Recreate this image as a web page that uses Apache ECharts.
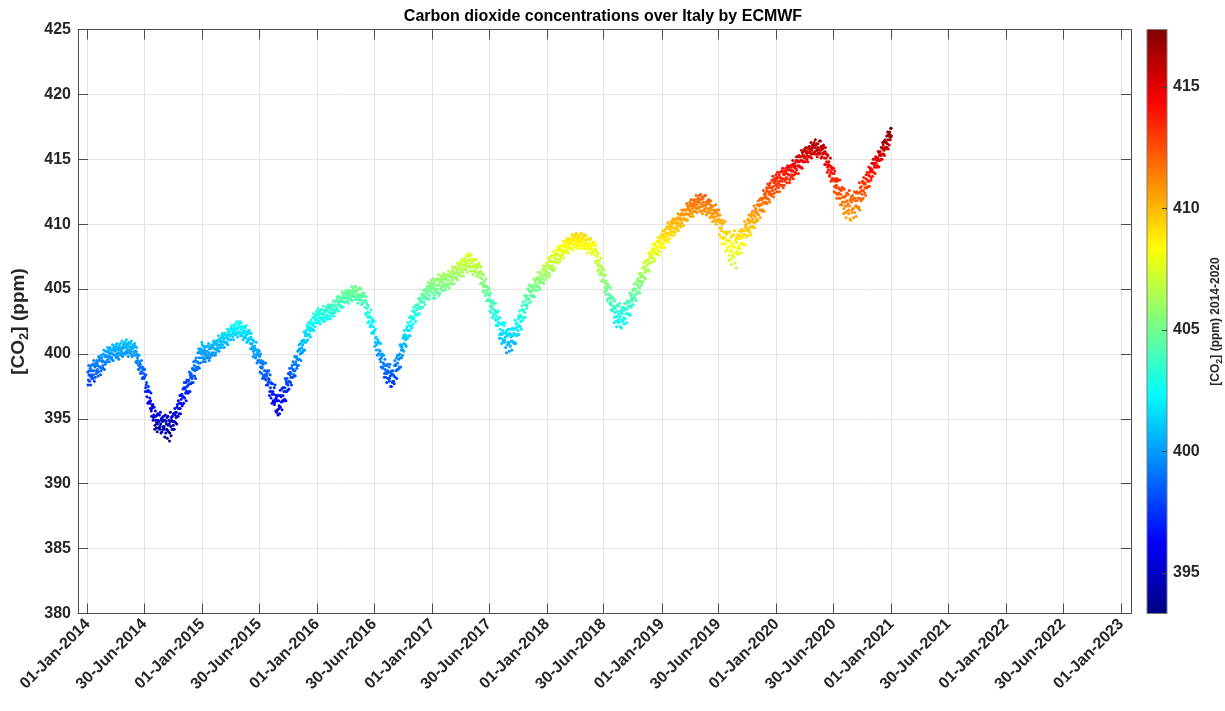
<!DOCTYPE html>
<html>
<head>
<meta charset="utf-8">
<script src="https://cdn.jsdelivr.net/npm/echarts@6/dist/echarts.min.js"></script>
<style>
  html, body { margin: 0; padding: 0; background: #ffffff; }
  #chart { width: 1225px; height: 711px; }
</style>
</head>
<body>
<div id="chart"></div>
<script>
// CO2 concentration over Italy (ECMWF), ppm.
// co2_YYYY: even days of the year (1 Jan, 3 Jan, ...); co2_YYYY_odd: odd days (2 Jan, 4 Jan, ...)
const co2_2014 = [
  398.6, 398.0, 398.4, 397.9, 398.9, 398.4, 398.7, 398.2, 399.2, 398.4, 398.7, 399.1, 398.2, 399.1, 398.7, 399.3,
  399.1, 398.6, 399.7, 399.0, 399.5, 398.7, 399.7, 399.4, 399.1, 400.0, 399.4, 399.8, 399.2, 399.9,
  399.8, 400.2, 399.6, 400.1, 400.4, 399.8, 400.0, 400.3, 399.6, 400.3, 400.0, 400.5, 399.9, 400.3, 400.2,
  400.6, 400.0, 400.4, 399.8, 400.3, 400.5, 400.0, 400.8, 400.2, 400.5, 400.1, 400.4, 400.7, 400.0, 400.5,
  400.7, 400.2, 400.5, 400.1, 400.8, 400.3, 400.6, 400.1, 400.8, 400.2, 400.4, 400.6, 399.9, 400.5, 400.2, 400.6,
  399.9, 400.2, 399.3, 399.7, 399.9, 399.1, 399.2, 399.4, 398.5, 399.0, 398.6, 399.0, 398.2, 398.5, 398.2,
  398.3, 397.4, 397.6, 396.7, 397.1, 397.2, 396.3, 397.1, 396.2, 396.4, 395.6, 395.8, 396.0, 394.9, 395.3,
  395.2, 394.5, 394.9, 394.3, 395.3, 394.6, 394.9, 394.3, 395.3, 394.4, 394.6, 395.0, 394.0, 394.8, 394.4, 394.9,
  394.2, 394.9, 393.9, 394.6, 395.1, 394.1, 394.5, 394.9, 393.3, 394.8, 394.4, 395.1, 394.2, 394.8, 394.5,
  395.4, 394.8, 395.3, 394.7, 395.5, 395.9, 395.2, 396.4, 395.8, 396.2, 395.8, 396.2, 396.8, 396.0, 396.7,
  396.7, 397.4, 396.6, 397.3, 397.8, 397.1, 397.5, 397.9, 397.0, 398.0, 397.7, 398.4, 397.7, 398.3, 398.1,
  398.8, 398.3, 398.8, 398.3, 399.5, 399.0, 399.4, 398.9, 400.1, 399.3, 399.7, 400.2, 399.3, 400.3, 400.0, 400.7
];
const co2_2014_odd = [
  397.6, 399.1, 398.7, 398.3, 397.6, 399.1, 398.1, 398.7, 398.1, 399.5, 397.9, 399.0, 399.3, 398.5, 399.5, 398.8,
  398.3, 399.8, 399.5, 399.0, 398.4, 399.9, 398.9, 399.5, 398.9, 400.3, 398.8, 399.8, 400.2, 399.4,
  399.4, 400.5, 400.2, 399.8, 399.4, 400.5, 399.7, 400.1, 399.7, 400.7, 399.5, 400.3, 400.5, 399.9, 400.7,
  399.7, 400.8, 400.5, 400.1, 399.6, 400.7, 400.0, 400.4, 399.9, 401.0, 399.8, 400.6, 400.8, 400.1, 400.9,
  400.0, 401.1, 400.7, 400.3, 399.8, 400.9, 400.1, 400.5, 400.0, 401.0, 399.8, 400.5, 400.7, 400.1, 400.8, 400.2,
  399.4, 400.5, 400.0, 399.5, 398.8, 399.9, 398.9, 399.2, 398.6, 399.5, 398.1, 398.8, 398.9, 398.1, 398.8,
  397.1, 398.4, 397.8, 397.1, 396.2, 397.5, 396.3, 396.6, 395.8, 397.0, 395.2, 396.0, 396.1, 395.1, 395.9,
  394.2, 395.6, 395.2, 394.7, 394.0, 395.4, 394.3, 394.8, 394.2, 395.5, 393.9, 394.9, 395.1, 394.2, 395.2, 394.4,
  393.6, 395.3, 394.8, 394.2, 393.5, 395.2, 394.0, 394.6, 393.9, 395.5, 393.7, 394.9, 395.2, 394.2, 395.4,
  394.2, 395.8, 395.5, 395.1, 394.6, 396.1, 395.2, 395.8, 395.4, 396.8, 395.4, 396.5, 396.9, 396.1, 397.3,
  396.2, 397.8, 397.4, 397.0, 396.4, 398.0, 397.0, 397.6, 397.1, 398.6, 397.1, 398.2, 398.5, 397.8, 398.9,
  397.8, 399.4, 399.1, 398.7, 398.1, 399.7, 398.8, 399.4, 399.0, 400.4, 398.9, 400.1, 400.4, 399.7, 400.9, 400.2
];
const co2_2015 = [
  400.3, 399.7, 400.1, 399.6, 400.5, 400.0, 400.2, 399.7, 400.6, 399.9, 400.1, 400.4, 399.7, 400.4, 400.0, 400.6,
  400.5, 400.1, 400.9, 400.4, 400.8, 400.1, 400.9, 400.7, 400.5, 401.1, 400.7, 401.0, 400.5, 401.0,
  400.9, 401.4, 400.7, 401.2, 401.5, 400.9, 401.2, 401.5, 400.8, 401.4, 401.2, 401.7, 401.1, 401.5, 401.4,
  402.0, 401.5, 401.8, 401.3, 401.8, 402.0, 401.5, 402.3, 401.7, 402.0, 401.6, 401.9, 402.3, 401.6, 402.1,
  402.1, 401.6, 401.9, 401.4, 402.1, 401.6, 401.8, 401.3, 402.0, 401.4, 401.5, 401.7, 401.0, 401.6, 401.2, 401.6,
  400.8, 401.3, 400.4, 400.8, 401.1, 400.2, 400.4, 400.6, 399.7, 400.3, 399.9, 400.3, 399.5, 399.9, 399.5,
  399.8, 399.0, 399.3, 398.5, 399.0, 399.2, 398.3, 399.3, 398.4, 398.7, 398.0, 398.3, 398.6, 397.6, 398.1,
  398.0, 397.1, 397.4, 396.6, 397.7, 396.9, 397.1, 396.3, 397.4, 396.3, 396.5, 396.8, 395.5, 396.4, 395.3, 396.4,
  396.0, 396.8, 395.9, 396.7, 397.3, 396.4, 396.8, 397.4, 396.4, 397.4, 397.1, 397.9, 397.1, 397.8, 397.6,
  398.5, 397.9, 398.4, 397.8, 398.5, 398.9, 398.2, 399.4, 398.7, 399.2, 398.7, 399.2, 399.7, 398.9, 399.6,
  399.6, 400.3, 399.6, 400.3, 400.8, 400.1, 400.5, 401.0, 400.2, 401.1, 400.9, 401.6, 400.9, 401.6, 401.4,
  402.0, 401.5, 401.9, 401.5, 402.4, 402.0, 402.3, 401.9, 402.8, 402.2, 402.4, 402.8, 402.1, 402.9, 402.6, 403.2
];
const co2_2015_odd = [
  399.4, 400.6, 400.3, 399.9, 399.4, 400.6, 399.7, 400.2, 399.7, 400.8, 399.5, 400.4, 400.6, 399.9, 400.7, 400.1,
  399.9, 401.0, 400.7, 400.4, 399.9, 401.0, 400.3, 400.7, 400.3, 401.4, 400.2, 401.0, 401.2, 400.7,
  400.5, 401.6, 401.3, 401.0, 400.5, 401.6, 400.9, 401.3, 400.9, 401.9, 400.7, 401.5, 401.7, 401.1, 401.9,
  401.1, 402.2, 401.9, 401.6, 401.1, 402.2, 401.5, 401.9, 401.5, 402.5, 401.3, 402.1, 402.3, 401.7, 402.5,
  401.4, 402.4, 402.1, 401.7, 401.1, 402.1, 401.3, 401.7, 401.2, 402.2, 400.9, 401.7, 401.8, 401.1, 401.8, 401.2,
  400.4, 401.6, 401.1, 400.6, 399.8, 401.0, 400.0, 400.4, 399.7, 400.9, 399.3, 400.1, 400.3, 399.4, 400.2,
  398.6, 400.0, 399.5, 398.9, 398.1, 399.4, 398.3, 398.7, 398.1, 399.3, 397.6, 398.5, 398.7, 397.8, 398.7,
  396.8, 398.4, 397.8, 397.1, 396.2, 397.7, 396.4, 396.9, 396.1, 397.6, 395.6, 396.6, 396.8, 395.7, 396.8, 395.8,
  395.4, 397.2, 396.8, 396.3, 395.7, 397.4, 396.4, 397.1, 396.5, 398.1, 396.4, 397.7, 398.1, 397.2, 398.5,
  397.3, 398.9, 398.6, 398.2, 397.6, 399.1, 398.2, 398.8, 398.4, 399.8, 398.3, 399.4, 399.8, 399.1, 400.2,
  399.1, 400.7, 400.4, 400.0, 399.5, 401.0, 400.1, 400.7, 400.3, 401.7, 400.3, 401.4, 401.8, 401.0, 402.2,
  401.1, 402.4, 402.1, 401.8, 401.3, 402.6, 401.8, 402.3, 401.9, 403.1, 401.8, 402.7, 403.0, 402.4, 403.3, 402.7
];
const co2_2016 = [
  403.1, 402.6, 403.0, 402.5, 403.3, 402.8, 403.1, 402.7, 403.4, 402.8, 403.0, 403.3, 402.6, 403.3, 402.9, 403.4,
  403.3, 402.9, 403.7, 403.2, 403.6, 402.9, 403.7, 403.4, 403.2, 403.8, 403.4, 403.7, 403.2, 403.7,
  403.7, 404.2, 403.5, 404.0, 404.4, 403.8, 404.0, 404.3, 403.6, 404.3, 404.1, 404.6, 404.0, 404.4, 404.3,
  404.7, 404.3, 404.6, 404.1, 404.5, 404.7, 404.2, 404.9, 404.5, 404.8, 404.4, 404.6, 404.9, 404.4, 404.8,
  404.9, 404.4, 404.7, 404.2, 404.9, 404.4, 404.6, 404.2, 405.1, 404.2, 404.4, 404.6, 403.9, 404.4, 404.1, 404.5,
  403.6, 404.1, 403.0, 403.5, 403.8, 402.8, 402.9, 403.2, 402.1, 402.8, 402.3, 402.7, 401.7, 402.1, 401.7,
  401.8, 400.9, 401.2, 400.3, 400.8, 400.9, 400.0, 400.9, 400.0, 400.2, 399.4, 399.7, 399.9, 398.9, 399.3,
  399.2, 398.5, 398.8, 398.2, 399.1, 398.5, 398.7, 398.1, 399.0, 398.1, 398.3, 398.6, 397.5, 398.4, 397.9, 398.4,
  398.3, 399.1, 398.2, 399.1, 399.7, 398.8, 399.3, 399.9, 398.9, 400.0, 399.7, 400.6, 399.7, 400.5, 400.3,
  401.4, 400.8, 401.3, 400.7, 401.4, 401.9, 401.2, 402.4, 401.8, 402.2, 401.8, 402.2, 402.8, 402.0, 402.7,
  402.8, 403.3, 402.7, 403.2, 403.7, 403.0, 403.4, 403.8, 403.0, 403.8, 403.6, 404.2, 403.5, 404.1, 404.0,
  404.5, 404.0, 404.4, 404.0, 404.9, 404.4, 404.8, 404.3, 405.2, 404.6, 404.9, 405.2, 404.5, 405.3, 405.0, 405.6
];
const co2_2016_odd = [
  402.4, 403.5, 403.2, 402.8, 402.3, 403.4, 402.7, 403.1, 402.6, 403.7, 402.5, 403.2, 403.4, 402.8, 403.6, 403.0,
  402.7, 403.8, 403.5, 403.2, 402.7, 403.8, 403.1, 403.5, 403.1, 404.1, 402.9, 403.7, 404.0, 403.4,
  403.3, 404.4, 404.1, 403.8, 403.3, 404.4, 403.7, 404.1, 403.7, 404.8, 403.6, 404.4, 404.6, 404.0, 404.8,
  404.0, 404.9, 404.7, 404.4, 403.9, 404.9, 404.3, 404.6, 404.2, 405.2, 404.1, 404.8, 405.0, 404.5, 405.2,
  404.2, 405.2, 404.9, 404.5, 403.9, 405.0, 404.2, 404.5, 404.1, 405.0, 403.8, 404.5, 404.7, 404.0, 404.7, 404.1,
  403.1, 404.4, 403.9, 403.2, 402.4, 403.7, 402.5, 402.9, 402.2, 403.4, 401.6, 402.5, 402.6, 401.6, 402.5,
  400.6, 401.9, 401.3, 400.7, 399.9, 401.1, 400.0, 400.3, 399.6, 400.8, 399.0, 399.9, 400.0, 399.0, 399.9,
  398.2, 399.6, 399.1, 398.6, 397.8, 399.2, 398.1, 398.6, 397.9, 399.2, 397.5, 398.5, 398.7, 397.8, 398.7, 397.9,
  397.7, 399.5, 399.2, 398.7, 398.1, 399.9, 398.8, 399.6, 399.0, 400.7, 399.0, 400.3, 400.7, 399.9, 401.2,
  400.2, 401.8, 401.5, 401.1, 400.6, 402.1, 401.2, 401.8, 401.4, 402.8, 401.4, 402.5, 402.9, 402.1, 403.3,
  402.3, 403.6, 403.3, 403.0, 402.5, 403.8, 403.0, 403.5, 403.1, 404.3, 403.1, 404.0, 404.3, 403.6, 404.6,
  403.6, 404.9, 404.6, 404.3, 403.8, 405.0, 404.3, 404.7, 404.3, 405.5, 404.2, 405.1, 405.4, 404.8, 405.7, 405.1
];
const co2_2017 = [
  405.3, 404.7, 405.1, 404.5, 405.6, 405.0, 405.3, 404.8, 405.8, 405.0, 405.3, 405.7, 404.7, 405.6, 405.2, 405.8,
  405.6, 405.2, 406.0, 405.4, 405.8, 405.1, 405.9, 405.7, 405.4, 406.1, 405.7, 406.0, 405.4, 406.0,
  405.9, 406.4, 405.7, 406.2, 406.6, 405.9, 406.2, 406.6, 405.8, 406.5, 406.3, 406.8, 406.1, 406.6, 406.5,
  407.0, 406.4, 406.8, 406.3, 406.8, 407.1, 406.5, 407.4, 406.8, 407.1, 406.7, 407.0, 407.7, 406.7, 407.2,
  407.3, 406.7, 407.0, 406.4, 407.2, 406.7, 406.9, 406.4, 407.2, 406.4, 406.6, 406.9, 406.0, 406.7, 406.3, 406.8,
  405.9, 406.4, 405.4, 405.8, 406.1, 405.2, 405.3, 405.6, 404.5, 405.2, 404.7, 405.2, 404.2, 404.6, 404.2,
  404.5, 403.7, 404.0, 403.2, 403.7, 403.9, 403.0, 403.9, 403.1, 403.3, 402.6, 402.9, 403.2, 402.2, 402.7,
  402.4, 401.5, 401.9, 401.2, 402.3, 401.5, 401.8, 401.0, 402.2, 401.1, 401.3, 401.7, 400.1, 401.4, 400.9, 401.5,
  400.8, 401.6, 400.6, 401.3, 401.9, 401.0, 401.4, 401.9, 400.8, 401.9, 401.5, 402.3, 401.4, 402.1, 401.8,
  402.9, 402.2, 402.8, 402.1, 402.9, 403.4, 402.6, 404.0, 403.3, 403.8, 403.2, 403.8, 404.4, 403.5, 404.3,
  404.3, 405.0, 404.2, 404.8, 405.2, 404.5, 404.8, 405.2, 404.4, 405.2, 405.0, 405.6, 404.9, 405.4, 405.2,
  405.8, 405.2, 405.7, 405.2, 406.2, 405.7, 406.0, 405.5, 406.5, 405.8, 406.1, 406.5, 405.7, 406.5, 406.2, 406.8
];
const co2_2017_odd = [
  404.3, 405.8, 405.4, 404.9, 404.3, 405.7, 404.7, 405.3, 404.7, 406.1, 404.5, 405.5, 405.8, 405.0, 406.0, 405.3,
  404.9, 406.2, 405.8, 405.4, 404.9, 406.1, 405.3, 405.7, 405.3, 406.4, 405.1, 406.0, 406.2, 405.5,
  405.4, 406.7, 406.4, 406.0, 405.4, 406.7, 405.9, 406.3, 405.9, 407.0, 405.7, 406.6, 406.9, 406.2, 407.1,
  406.0, 407.3, 407.0, 406.6, 406.0, 407.3, 406.5, 406.9, 406.5, 407.6, 406.3, 407.2, 407.5, 406.8, 407.7,
  406.4, 407.6, 407.2, 406.7, 406.1, 407.3, 406.4, 406.8, 406.3, 407.3, 406.0, 406.8, 406.9, 406.2, 407.0, 406.3,
  405.4, 406.7, 406.2, 405.5, 404.8, 406.1, 404.9, 405.3, 404.6, 405.8, 404.1, 404.9, 405.1, 404.1, 405.0,
  403.3, 404.7, 404.1, 403.5, 402.8, 404.1, 403.0, 403.4, 402.7, 403.9, 402.2, 403.2, 403.3, 402.4, 403.3,
  401.2, 402.8, 402.3, 401.6, 400.8, 402.4, 401.1, 401.6, 400.9, 402.4, 400.5, 401.6, 401.8, 400.7, 401.9, 400.9,
  400.2, 401.9, 401.5, 401.0, 400.3, 402.0, 400.9, 401.6, 400.9, 402.6, 400.8, 402.0, 402.4, 401.5, 402.7,
  401.5, 403.3, 403.0, 402.5, 401.9, 403.7, 402.6, 403.4, 402.8, 404.5, 402.8, 404.1, 404.5, 403.7, 405.0,
  403.9, 405.3, 404.9, 404.5, 404.0, 405.3, 404.5, 405.0, 404.5, 405.8, 404.4, 405.4, 405.7, 404.9, 405.9,
  404.9, 406.3, 405.9, 405.5, 405.0, 406.3, 405.5, 406.0, 405.5, 406.8, 405.4, 406.4, 406.7, 406.0, 407.0, 406.3
];
const co2_2018 = [
  406.9, 406.3, 406.8, 406.2, 407.3, 406.8, 407.1, 406.6, 407.6, 406.8, 407.1, 407.6, 406.6, 407.5, 407.2, 407.8,
  407.7, 407.3, 408.1, 407.6, 408.0, 407.3, 408.2, 407.9, 407.7, 408.4, 408.0, 408.3, 407.8, 408.4,
  408.2, 408.7, 408.0, 408.5, 408.8, 408.2, 408.5, 408.8, 408.1, 408.7, 408.5, 409.0, 408.4, 408.8, 408.7,
  409.1, 408.5, 408.8, 408.3, 408.8, 409.0, 408.4, 409.2, 408.6, 408.9, 408.4, 408.7, 409.0, 408.3, 408.8,
  408.8, 408.3, 408.6, 408.1, 408.8, 408.3, 408.5, 408.1, 408.8, 408.1, 408.3, 408.5, 407.8, 408.4, 408.0, 408.4,
  407.6, 408.1, 407.0, 407.5, 407.8, 406.8, 406.9, 407.2, 406.1, 406.8, 406.3, 406.7, 405.7, 406.1, 405.7,
  406.0, 405.1, 405.4, 404.6, 405.0, 405.2, 404.3, 405.2, 404.3, 404.5, 403.8, 404.0, 404.3, 403.3, 403.7,
  403.6, 402.8, 403.2, 402.5, 403.7, 402.9, 403.3, 402.5, 403.7, 402.7, 402.9, 403.3, 402.0, 403.1, 402.6, 403.3,
  402.8, 403.5, 402.7, 403.4, 403.9, 403.1, 403.5, 404.0, 403.0, 404.0, 403.7, 404.5, 403.6, 404.3, 404.1,
  405.0, 404.4, 404.9, 404.3, 405.0, 405.4, 404.7, 405.8, 405.2, 405.6, 405.1, 405.6, 406.1, 405.3, 406.0,
  406.0, 406.7, 405.9, 406.6, 407.1, 406.4, 406.8, 407.2, 406.4, 407.3, 407.0, 407.7, 407.0, 407.6, 407.4,
  408.0, 407.4, 407.9, 407.4, 408.4, 407.9, 408.2, 407.7, 408.7, 408.0, 408.3, 408.7, 407.9, 408.7, 408.4, 409.0
];
const co2_2018_odd = [
  405.9, 407.4, 407.1, 406.6, 406.0, 407.5, 406.5, 407.1, 406.5, 407.9, 406.4, 407.4, 407.7, 407.0, 408.0, 407.3,
  407.0, 408.3, 408.0, 407.6, 407.1, 408.3, 407.5, 408.0, 407.6, 408.7, 407.4, 408.3, 408.6, 407.9,
  407.8, 408.9, 408.6, 408.3, 407.8, 408.9, 408.2, 408.6, 408.2, 409.2, 408.0, 408.8, 409.0, 408.4, 409.2,
  408.2, 409.3, 409.0, 408.6, 408.1, 409.1, 408.4, 408.8, 408.3, 409.3, 408.1, 408.9, 409.1, 408.5, 409.2,
  408.1, 409.1, 408.8, 408.4, 407.8, 408.9, 408.1, 408.4, 408.0, 408.9, 407.7, 408.4, 408.6, 407.9, 408.6, 408.0,
  407.1, 408.4, 407.9, 407.2, 406.4, 407.7, 406.5, 406.9, 406.2, 407.4, 405.6, 406.5, 406.6, 405.6, 406.5,
  404.8, 406.1, 405.6, 404.9, 404.1, 405.4, 404.3, 404.6, 403.9, 405.1, 403.4, 404.3, 404.4, 403.4, 404.3,
  402.4, 404.1, 403.5, 402.9, 402.1, 403.8, 402.6, 403.1, 402.4, 403.9, 402.1, 403.2, 403.5, 402.5, 403.6, 402.7,
  402.3, 403.9, 403.5, 403.1, 402.4, 404.1, 403.1, 403.7, 403.1, 404.7, 403.0, 404.2, 404.6, 403.8, 404.9,
  403.8, 405.4, 405.0, 404.6, 404.1, 405.6, 404.7, 405.3, 404.8, 406.2, 404.7, 405.9, 406.2, 405.5, 406.6,
  405.6, 407.0, 406.7, 406.3, 405.8, 407.2, 406.4, 406.9, 406.5, 407.8, 406.4, 407.5, 407.8, 407.1, 408.1,
  407.1, 408.5, 408.1, 407.7, 407.2, 408.5, 407.7, 408.2, 407.7, 409.0, 407.6, 408.6, 408.9, 408.2, 409.2, 408.5
];
const co2_2019 = [
  409.1, 408.5, 409.0, 408.5, 409.5, 409.0, 409.3, 408.8, 409.8, 409.1, 409.3, 409.7, 408.9, 409.7, 409.4, 410.0,
  409.8, 409.4, 410.2, 409.7, 410.1, 409.4, 410.3, 410.0, 409.8, 410.5, 410.1, 410.4, 409.9, 410.5,
  410.3, 410.8, 410.1, 410.7, 411.1, 410.4, 410.7, 411.1, 410.3, 411.1, 410.8, 411.4, 410.7, 411.2, 411.1,
  411.6, 411.0, 411.4, 410.8, 411.4, 411.6, 411.0, 411.9, 411.3, 411.7, 411.2, 411.5, 411.9, 411.2, 411.7,
  411.9, 411.3, 411.6, 411.0, 412.1, 411.4, 411.7, 411.1, 412.2, 411.2, 411.4, 411.7, 410.8, 411.6, 411.2, 411.7,
  410.9, 411.5, 410.6, 411.1, 411.4, 410.6, 410.8, 411.1, 410.2, 410.9, 410.6, 411.1, 410.3, 410.7, 410.4,
  410.7, 409.7, 410.1, 409.0, 409.7, 410.0, 408.9, 410.1, 409.0, 409.4, 408.5, 408.8, 409.3, 408.0, 408.7,
  408.7, 407.6, 408.3, 407.3, 409.0, 408.0, 408.5, 407.5, 409.2, 407.8, 408.2, 408.8, 406.6, 408.6, 407.9, 408.9,
  408.3, 409.1, 408.1, 408.9, 409.4, 408.5, 409.0, 409.5, 408.4, 409.5, 409.2, 409.9, 409.0, 409.7, 409.5,
  410.3, 409.6, 410.1, 409.4, 410.2, 410.6, 409.8, 411.0, 410.2, 410.7, 410.1, 410.6, 411.1, 410.2, 410.9,
  410.8, 411.5, 410.7, 411.4, 411.9, 411.1, 411.5, 411.9, 411.0, 412.0, 411.7, 412.3, 411.6, 412.2, 412.0,
  412.6, 412.0, 412.5, 411.9, 413.0, 412.5, 412.8, 412.3, 413.4, 412.6, 412.9, 413.3, 412.4, 413.3, 413.0, 413.6
];
const co2_2019_odd = [
  408.2, 409.5, 409.2, 408.8, 408.2, 409.6, 408.7, 409.3, 408.8, 410.1, 408.6, 409.6, 409.9, 409.2, 410.2, 409.5,
  409.1, 410.4, 410.1, 409.7, 409.2, 410.4, 409.6, 410.1, 409.7, 410.8, 409.5, 410.4, 410.7, 410.0,
  409.8, 411.1, 410.8, 410.4, 409.9, 411.1, 410.4, 410.8, 410.4, 411.6, 410.3, 411.2, 411.4, 410.8, 411.7,
  410.6, 411.9, 411.5, 411.2, 410.6, 411.8, 411.0, 411.5, 411.0, 412.2, 410.9, 411.7, 412.0, 411.3, 412.2,
  411.0, 412.3, 411.9, 411.4, 410.8, 412.0, 411.1, 411.5, 411.0, 412.2, 410.7, 411.6, 411.8, 411.0, 411.9, 411.2,
  410.5, 411.8, 411.3, 410.8, 410.2, 411.4, 410.5, 410.9, 410.3, 411.5, 410.0, 410.9, 411.1, 410.2, 411.1,
  409.2, 410.7, 410.3, 409.5, 408.5, 410.3, 408.9, 409.4, 408.5, 410.2, 407.9, 409.2, 409.4, 408.2, 409.4,
  407.2, 409.4, 408.7, 407.9, 406.9, 409.1, 407.6, 408.3, 407.4, 409.5, 407.0, 408.6, 409.0, 407.7, 409.2, 408.1,
  407.7, 409.5, 409.1, 408.5, 407.8, 409.6, 408.5, 409.2, 408.5, 410.2, 408.4, 409.7, 410.0, 409.1, 410.4,
  409.1, 410.7, 410.3, 409.8, 409.2, 410.8, 409.8, 410.4, 409.8, 411.4, 409.7, 410.9, 411.2, 410.4, 411.5,
  410.3, 411.8, 411.5, 411.1, 410.5, 412.0, 411.1, 411.6, 411.1, 412.6, 411.0, 412.1, 412.4, 411.7, 412.8,
  411.6, 413.1, 412.8, 412.3, 411.7, 413.2, 412.2, 412.8, 412.3, 413.7, 412.1, 413.2, 413.5, 412.7, 413.8, 413.1
];
const co2_2020 = [
  413.5, 412.9, 413.3, 412.8, 413.8, 413.3, 413.6, 413.0, 414.1, 413.3, 413.5, 413.9, 413.0, 413.9, 413.5, 414.1,
  413.9, 413.5, 414.4, 413.8, 414.2, 413.4, 414.4, 414.1, 413.8, 414.6, 414.1, 414.4, 413.8, 414.5,
  414.3, 414.9, 414.2, 414.8, 415.2, 414.5, 414.8, 415.2, 414.4, 415.2, 414.9, 415.5, 414.8, 415.3, 415.1,
  415.7, 415.2, 415.5, 415.0, 415.5, 415.8, 415.2, 416.0, 415.5, 415.8, 415.4, 415.7, 416.1, 415.4, 415.9,
  416.1, 415.6, 415.9, 415.4, 416.2, 415.7, 415.9, 415.4, 416.4, 415.5, 415.7, 416.0, 415.2, 415.8, 415.5, 415.9,
  415.1, 415.6, 414.6, 415.1, 415.4, 414.4, 414.6, 414.8, 413.7, 414.5, 414.0, 414.4, 413.5, 413.9, 413.5,
  413.9, 412.9, 413.3, 412.4, 413.0, 413.3, 412.3, 413.4, 412.4, 412.7, 412.0, 412.3, 412.7, 411.5, 412.1,
  412.1, 411.2, 411.7, 410.9, 412.2, 411.4, 411.8, 411.0, 412.3, 411.1, 411.4, 411.9, 410.3, 411.7, 411.1, 411.9,
  411.2, 412.0, 410.9, 411.8, 412.4, 411.4, 411.8, 412.4, 411.2, 412.4, 412.0, 412.8, 411.8, 412.6, 412.3,
  413.2, 412.6, 413.1, 412.4, 413.1, 413.5, 412.8, 414.0, 413.3, 413.8, 413.3, 413.7, 414.2, 413.4, 414.1,
  414.2, 414.7, 414.0, 414.6, 415.0, 414.4, 414.7, 415.1, 414.4, 415.1, 414.9, 415.5, 414.9, 415.4, 415.3,
  415.9, 415.4, 415.8, 415.4, 416.4, 415.9, 416.3, 415.9, 416.8, 416.2, 416.5, 416.9, 416.1, 416.9, 416.7, 417.4
];
const co2_2020_odd = [
  412.5, 414.0, 413.6, 413.1, 412.5, 414.0, 413.0, 413.5, 413.0, 414.3, 412.8, 413.8, 414.1, 413.3, 414.3, 413.6,
  413.2, 414.5, 414.2, 413.8, 413.2, 414.5, 413.6, 414.2, 413.7, 414.9, 413.5, 414.5, 414.7, 414.0,
  413.9, 415.2, 414.9, 414.5, 413.9, 415.3, 414.4, 414.9, 414.4, 415.7, 414.3, 415.3, 415.6, 414.8, 415.8,
  414.8, 415.9, 415.6, 415.3, 414.8, 415.9, 415.2, 415.6, 415.2, 416.3, 415.1, 415.9, 416.1, 415.5, 416.3,
  415.4, 416.5, 416.1, 415.7, 415.2, 416.2, 415.5, 415.8, 415.4, 416.4, 415.1, 415.9, 416.0, 415.4, 416.1, 415.5,
  414.6, 415.9, 415.4, 414.8, 414.0, 415.3, 414.2, 414.5, 413.8, 415.1, 413.3, 414.2, 414.3, 413.4, 414.3,
  412.5, 414.1, 413.5, 412.8, 412.0, 413.5, 412.3, 412.8, 412.0, 413.4, 411.5, 412.6, 412.8, 411.7, 412.8,
  410.8, 412.7, 412.1, 411.4, 410.5, 412.4, 411.0, 411.6, 410.8, 412.6, 410.4, 411.8, 412.1, 410.9, 412.2, 411.2,
  410.5, 412.5, 412.0, 411.4, 410.6, 412.5, 411.3, 412.0, 411.3, 413.2, 411.1, 412.5, 412.9, 411.9, 413.3,
  412.0, 413.6, 413.2, 412.8, 412.2, 413.8, 412.8, 413.4, 412.9, 414.4, 412.9, 414.0, 414.3, 413.6, 414.7,
  413.7, 415.0, 414.7, 414.4, 413.9, 415.2, 414.4, 414.9, 414.5, 415.6, 414.4, 415.3, 415.6, 415.0, 415.9,
  415.0, 416.3, 416.1, 415.7, 415.3, 416.5, 415.8, 416.3, 415.9, 417.1, 415.8, 416.8, 417.1, 416.5, 417.4, 416.8
];

const dataYears = [2014, 2015, 2016, 2017, 2018, 2019, 2020];
const yearSeriesEven = [co2_2014, co2_2015, co2_2016, co2_2017, co2_2018, co2_2019, co2_2020];
const yearSeriesOdd = [co2_2014_odd, co2_2015_odd, co2_2016_odd, co2_2017_odd, co2_2018_odd, co2_2019_odd, co2_2020_odd];

// Axis ticks
const xTickDates = [
  '2014-01-01', '2014-06-30', '2015-01-01', '2015-06-30', '2016-01-01', '2016-06-30',
  '2017-01-01', '2017-06-30', '2018-01-01', '2018-06-30', '2019-01-01', '2019-06-30',
  '2020-01-01', '2020-06-30', '2021-01-01', '2021-06-30', '2022-01-01', '2022-06-30', '2023-01-01'
];
const xAxisStart = '2013-12-01';
const xAxisEnd = '2023-02-01';
const yAxisMin = 380, yAxisMax = 425, yAxisStep = 5;
const colorbarTicks = [395, 400, 405, 410, 415];
const colorMin = 393.33, colorMax = 417.36;

// MATLAB "jet" colormap, evenly spaced stops from low to high
const jetColors = ['#00007f', '#0000ff', '#007fff', '#00ffff', '#7fff7f', '#ffff00', '#ff7f00', '#ff0000', '#7f0000'];

const monthNames = ['Jan', 'Feb', 'Mar', 'Apr', 'May', 'Jun', 'Jul', 'Aug', 'Sep', 'Oct', 'Nov', 'Dec'];
const DAY = 86400000;

function toTime(s) {
  const p = s.split('-').map(Number);
  return Date.UTC(p[0], p[1] - 1, p[2]);
}
function fmtDate(t) {
  const d = new Date(t);
  const dd = String(d.getUTCDate()).padStart(2, '0');
  return dd + '-' + monthNames[d.getUTCMonth()] + '-' + d.getUTCFullYear();
}

const points = [];
dataYears.forEach(function (yr, k) {
  const t0 = Date.UTC(yr, 0, 1);
  yearSeriesEven[k].forEach(function (v, i) { points.push([t0 + (2 * i) * DAY, v]); });
  yearSeriesOdd[k].forEach(function (v, i) { points.push([t0 + (2 * i + 1) * DAY, v]); });
});
points.sort(function (a, b) { return a[0] - b[0]; });

const xTicks = xTickDates.map(toTime);
const FONT = '"Liberation Sans", Arial, Helvetica, sans-serif';
const AXIS_COLOR = '#4d4d4d';
const TEXT_COLOR = '#262626';

const chart = echarts.init(document.getElementById('chart'), null, { renderer: 'canvas' });

chart.setOption({
  animation: false,
  backgroundColor: '#ffffff',
  textStyle: { fontFamily: FONT },
  graphic: [{
    type: 'text',
    x: 603,
    y: 17,
    style: {
      text: 'Carbon dioxide concentrations over Italy by ECMWF',
      fill: '#000000',
      font: 'bold 16px ' + FONT,
      textAlign: 'center',
      textVerticalAlign: 'middle'
    }
  }],
  grid: [
    { left: 78, top: 29.5, width: 1053, height: 584, containLabel: false },
    {
      left: 1147, top: 29.5, width: 20.5, height: 584, show: true,
      borderColor: '#7a7a7a', borderWidth: 1,
      backgroundColor: {
        type: 'linear', x: 0, y: 0, x2: 0, y2: 1,
        colorStops: jetColors.slice().reverse().map(function (c, i) {
          return { offset: i / (jetColors.length - 1), color: c };
        })
      }
    }
  ],
  xAxis: [
    {
      gridIndex: 0, type: 'value', position: 'bottom',
      min: toTime(xAxisStart), max: toTime(xAxisEnd),
      axisLine: { show: true, onZero: false, lineStyle: { color: AXIS_COLOR, width: 1 } },
      axisTick: { show: true, inside: true, length: 10, customValues: xTicks, lineStyle: { color: AXIS_COLOR } },
      axisLabel: {
        show: true, customValues: xTicks, rotate: 45, margin: 8,
        formatter: function (v) { return fmtDate(v); },
        fontFamily: FONT, fontWeight: 'bold', fontSize: 16, color: TEXT_COLOR
      },
      splitLine: { show: true, lineStyle: { color: '#e4e4e4', width: 1 } }
    },
    {
      gridIndex: 0, type: 'value', position: 'top',
      min: toTime(xAxisStart), max: toTime(xAxisEnd),
      axisLine: { show: true, onZero: false, lineStyle: { color: AXIS_COLOR, width: 1 } },
      axisTick: { show: true, inside: true, length: 10, customValues: xTicks, lineStyle: { color: AXIS_COLOR } },
      axisLabel: { show: false },
      splitLine: { show: false }
    },
    { gridIndex: 1, type: 'value', min: 0, max: 1, show: false }
  ],
  yAxis: [
    {
      gridIndex: 0, type: 'value', position: 'left',
      min: yAxisMin, max: yAxisMax, interval: yAxisStep,
      axisLine: { show: true, onZero: false, lineStyle: { color: AXIS_COLOR, width: 1 } },
      axisTick: { show: true, inside: true, length: 10, lineStyle: { color: AXIS_COLOR } },
      axisLabel: { fontFamily: FONT, fontWeight: 'bold', fontSize: 16, color: TEXT_COLOR, margin: 7 },
      splitLine: { show: true, lineStyle: { color: '#e4e4e4', width: 1 } },
      name: '{b|[CO}{s|2}{b|] (ppm)}',
      nameLocation: 'middle',
      nameRotate: 90,
      nameGap: 47,
      nameTextStyle: {
        rich: {
          b: { fontFamily: FONT, fontWeight: 'bold', fontSize: 19, color: TEXT_COLOR },
          s: { fontFamily: FONT, fontWeight: 'bold', fontSize: 13, color: TEXT_COLOR, padding: [12, 0, 0, 0] }
        }
      }
    },
    {
      gridIndex: 0, type: 'value', position: 'right',
      min: yAxisMin, max: yAxisMax, interval: yAxisStep,
      axisLine: { show: true, onZero: false, lineStyle: { color: AXIS_COLOR, width: 1 } },
      axisTick: { show: true, inside: true, length: 10, lineStyle: { color: AXIS_COLOR } },
      axisLabel: { show: false },
      splitLine: { show: false }
    },
    {
      gridIndex: 1, type: 'value', position: 'right',
      min: colorMin, max: colorMax,
      axisLine: { show: false, onZero: false },
      axisTick: { show: true, inside: true, length: 5, customValues: colorbarTicks, lineStyle: { color: '#444444' } },
      axisLabel: {
        customValues: colorbarTicks, margin: 6,
        fontFamily: FONT, fontWeight: 'bold', fontSize: 16, color: TEXT_COLOR
      },
      splitLine: { show: false },
      name: '{b|[CO}{s|2}{b|] (ppm) 2014-2020}',
      nameLocation: 'middle',
      nameRotate: 90,
      nameGap: 40,
      nameTextStyle: {
        rich: {
          b: { fontFamily: FONT, fontWeight: 'bold', fontSize: 12, color: TEXT_COLOR },
          s: { fontFamily: FONT, fontWeight: 'bold', fontSize: 9, color: TEXT_COLOR, padding: [8, 0, 0, 0] }
        }
      }
    }
  ],
  visualMap: {
    type: 'continuous',
    show: false,
    seriesIndex: 0,
    dimension: 1,
    min: colorMin,
    max: colorMax,
    inRange: { color: jetColors }
  },
  series: [{
    type: 'scatter',
    xAxisIndex: 0,
    yAxisIndex: 0,
    symbol: 'circle',
    symbolSize: 3,
    data: points,
    itemStyle: { opacity: 1 }
  }]
});
</script>
</body>
</html>
